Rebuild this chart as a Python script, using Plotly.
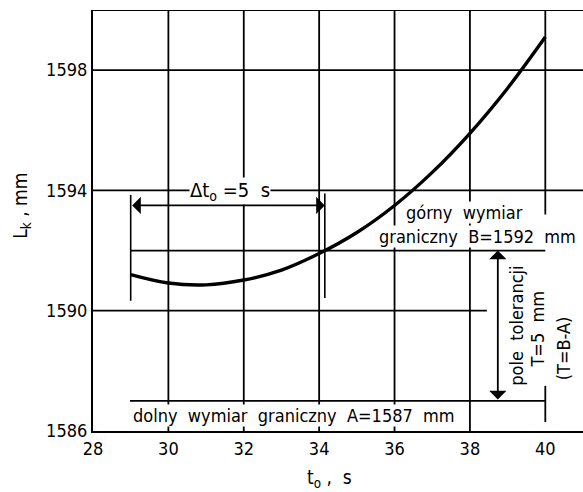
import plotly.graph_objects as go

# ---- data ----
t_vals = [29, 30, 31, 32, 33, 34, 35, 36, 37, 38, 39, 40]
lk_vals = [1591.2, 1590.92, 1590.86, 1591.02, 1591.35, 1591.9,
           1592.6, 1593.5, 1594.6, 1595.9, 1597.4, 1599.1]
x_ticks = [28, 30, 32, 34, 36, 38, 40]
y_ticks = [1586, 1590, 1594, 1598]
upper_limit_B = 1592
lower_limit_A = 1587
dt_start, dt_end = 29, 34.15

FONT = "DejaVu Sans Condensed, Liberation Sans Narrow, sans-serif"
FS = 18
BLACK = "#000000"

fig = go.Figure()

shapes = []
def seg(x0, y0, x1, y1, w=1.8):
    shapes.append(dict(type="line", xref="x", yref="y", x0=x0, y0=y0, x1=x1, y1=y1,
                       line=dict(color=BLACK, width=w), layer="below"))

for xv in x_ticks[1:-1]:
    seg(xv, 1586, xv, 1600)
seg(40, 1593.2, 40, 1600)
seg(40, 1586.3, 40, 1587.5)
seg(28, 1598, 41, 1598)
seg(28, 1594, 41, 1594)
seg(28, 1590, 38.45, 1590)
seg(28, 1600, 41, 1600, 2.2)  # top frame

seg(29, upper_limit_B, 40, upper_limit_B, 1.8)
seg(28.98, lower_limit_A, 40, lower_limit_A, 1.8)
seg(dt_start, 1590.33, dt_start, 1593.85, 1.6)
seg(dt_end, 1590.42, dt_end, 1593.9, 1.6)

fig.add_trace(go.Scatter(x=t_vals, y=lk_vals, mode="lines",
                         line=dict(color=BLACK, width=3.4, shape="spline"),
                         hoverinfo="skip", showlegend=False))

ann = []
txt = dict(showarrow=False, bgcolor="white", borderpad=0, xanchor="center",
           yanchor="middle", xref="x", yref="y")
f18 = dict(family=FONT, size=FS, color=BLACK)
ann.append(dict(text="Δt<sub>o</sub> =5  s", x=31.63, y=1593.97,
                font=dict(family=FONT, size=20, color=BLACK), **txt))
ann.append(dict(text="górny  wymiar", x=37.85, y=1593.25, font=f18, **txt))
ann.append(dict(text="graniczny  B=1592  mm", x=38.2, y=1592.47, font=f18, **txt))
ann.append(dict(text="dolny  wymiar  graniczny  A=1587  mm", x=33.33, y=1586.5, font=f18, **txt))
ann.append(dict(text="pole  tolerancji", x=39.25, y=1589.5, textangle=-90, font=f18, **txt))
ann.append(dict(text="T=5  mm", x=39.8, y=1589.4, textangle=-90, font=f18, **txt))
ann.append(dict(text="(T=B-A)", x=40.47, y=1588.75, textangle=-90, font=f18, **txt))

arr = dict(text="", showarrow=True, arrowhead=1, arrowsize=1.6, arrowwidth=1.8,
           arrowcolor=BLACK, arrowside="end+start", standoff=0, startstandoff=0,
           xref="x", yref="y", axref="x", ayref="y")
ann.append(dict(x=dt_end, y=1593.5, ax=dt_start, ay=1593.5, **arr))
ann.append(dict(x=38.74, y=upper_limit_B, ax=38.74, ay=lower_limit_A, **arr))

ttl = dict(font=dict(family=FONT, size=19, color=BLACK), showarrow=False,
           xanchor="center", yanchor="middle", xref="paper", yref="paper")
ann.append(dict(text="L<sub>k</sub> , mm", x=-0.145, y=0.535, textangle=-90, **ttl))
ann.append(dict(text="t<sub>o</sub> ,  s", x=0.482, y=-0.112, **ttl))

fig.update_layout(
    width=583, height=492,
    margin=dict(l=93, r=0, t=10, b=61),
    paper_bgcolor="white", plot_bgcolor="white",
    shapes=shapes, annotations=ann,
    font=dict(family=FONT, size=FS, color=BLACK),
    xaxis=dict(range=[28, 41], tickvals=x_ticks, showgrid=False, zeroline=False,
               showline=True, linecolor=BLACK, linewidth=2.2, ticks="",
               tickfont=dict(family=FONT, size=FS, color=BLACK)),
    yaxis=dict(range=[1586, 1600], tickvals=y_ticks, showgrid=False, zeroline=False,
               showline=True, linecolor=BLACK, linewidth=2.2, ticks="",
               tickfont=dict(family=FONT, size=FS, color=BLACK)),
)

fig.write_html("out.html")
